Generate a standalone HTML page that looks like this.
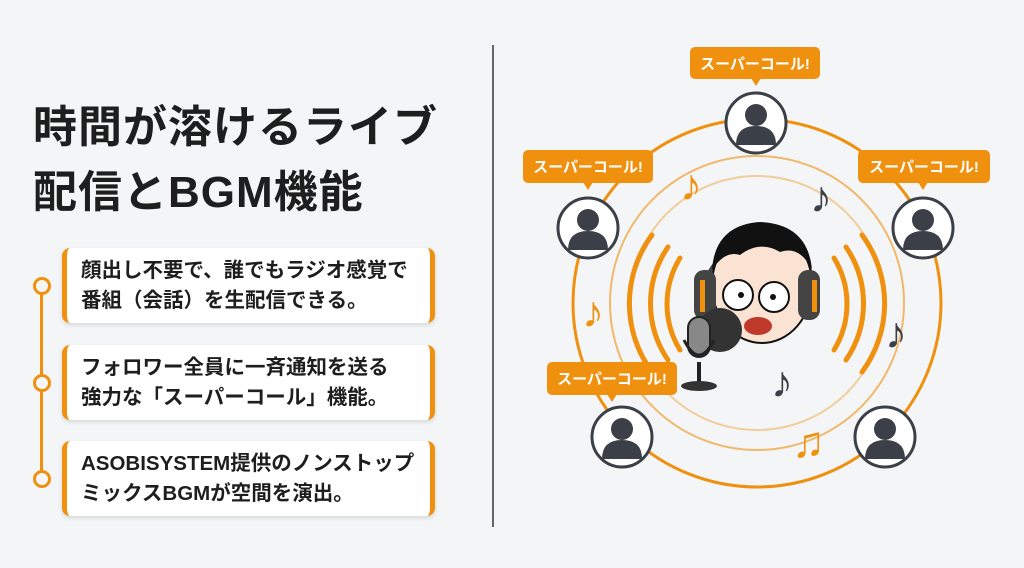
<!DOCTYPE html>
<html><head><meta charset="utf-8"><style>
body{margin:0;width:1024px;height:568px;background:#f3f5f7;font-family:"Liberation Sans","Noto Sans CJK JP",sans-serif;position:relative;overflow:hidden}
.t{position:absolute;left:33px;font-size:44px;font-weight:bold;color:#1e1e1e;letter-spacing:1px;line-height:50px}
.card{position:absolute;left:62px;width:373px;height:75px;background:#fff;border-left:5px solid #f0900f;border-right:5px solid #f0900f;border-radius:8px;box-shadow:0 2px 5px rgba(0,0,0,.12);box-sizing:border-box;padding:8px 0 0 14px;font-size:20.5px;font-weight:bold;line-height:30px;color:#1e1e1e;white-space:nowrap}
.dot{position:absolute;left:33px;width:12px;height:12px;border:3px solid #f0900f;border-radius:50%;background:#f3f5f7}
</style></head><body>
<div class="t" style="top:103px">時間が溶けるライブ</div>
<div class="t" style="top:168px">配信とBGM機能</div>
<div style="position:absolute;left:40px;top:285px;width:3px;height:195px;background:#f0900f"></div>
<div class="dot" style="top:277px"></div><div class="dot" style="top:374px"></div><div class="dot" style="top:470px"></div>
<div class="card" style="top:248px">顔出し不要で、誰でもラジオ感覚で<br>番組（会話）を生配信できる。</div>
<div class="card" style="top:345px">フォロワー全員に一斉通知を送る<br>強力な「スーパーコール」機能。</div>
<div class="card" style="top:441px">ASOBISYSTEM提供のノンストップ<br>ミックスBGMが空間を演出。</div>
<div style="position:absolute;left:492px;top:45px;width:2px;height:482px;background:#666"></div>
<svg width="1024" height="568" style="position:absolute;left:0;top:0" font-family="Liberation Sans,Noto Sans CJK JP,sans-serif">
<g fill="none" stroke="#f0900f">
<circle cx="757" cy="303" r="184" stroke-width="3"/>
<circle cx="757" cy="303" r="147" stroke-width="2" opacity=".6"/>
<circle cx="757" cy="303" r="127" stroke-width="2" opacity=".4"/>
<g stroke-width="5" stroke-linecap="round">
<path d="M652 235 A115 115 0 0 0 652 372"/><path d="M668 247 A100 100 0 0 0 668 360"/><path d="M680 258 A88 88 0 0 0 680 350"/>
<path d="M862 235 A115 115 0 0 1 862 372"/><path d="M846 247 A100 100 0 0 1 846 360"/><path d="M834 258 A88 88 0 0 1 834 350"/>
</g></g>
<g font-size="44" font-weight="bold">
<text x="680" y="200" fill="#f0900f">♪</text><text x="810" y="212" fill="#3b4048">♪</text>
<text x="582" y="327" fill="#f0900f">♪</text><text x="885" y="348" fill="#3b4048">♪</text>
<text x="771" y="397" fill="#3b4048">♪</text><text x="792" y="457" fill="#f0900f">♫</text></g>
<path d="M705 290 A57 62 0 0 1 815 290" fill="none" stroke="#444" stroke-width="9"/>
<ellipse cx="762" cy="285" rx="50" ry="58" fill="#fbe3d4" stroke="#111" stroke-width="2"/>
<path d="M712 270 Q715 225 760 222 Q808 224 812 270 Q800 245 780 252 Q760 240 740 255 Q725 250 712 270Z" fill="#111"/>
<circle cx="738" cy="295" r="15" fill="#fff" stroke="#111" stroke-width="2"/><circle cx="741" cy="295" r="3" fill="#111"/>
<circle cx="774" cy="297" r="15" fill="#fff" stroke="#111" stroke-width="2"/><circle cx="773" cy="297" r="3" fill="#111"/>
<ellipse cx="758" cy="326" rx="14" ry="9" fill="#c0392b"/>
<rect x="694" y="270" width="22" height="50" rx="10" fill="#444"/><rect x="798" y="270" width="22" height="50" rx="10" fill="#444"/>
<rect x="700" y="280" width="5" height="32" fill="#f0900f"/><rect x="812" y="280" width="5" height="32" fill="#f0900f"/>
<circle cx="720" cy="330" r="22" fill="#333"/>
<rect x="688" y="317" width="22" height="40" rx="11" fill="#888" stroke="#222" stroke-width="2"/>
<path d="M684 340 Q699 370 714 340" fill="none" stroke="#222" stroke-width="3"/>
<rect x="697" y="362" width="4" height="20" fill="#222"/><ellipse cx="699" cy="386" rx="18" ry="5" fill="#333"/>
<g stroke="#3b4048" stroke-width="3" fill="#fff">
<circle cx="756" cy="123" r="30"/><circle cx="588" cy="228" r="30"/><circle cx="923" cy="228" r="30"/><circle cx="622" cy="437" r="30"/><circle cx="885" cy="437" r="30"/></g>
<g fill="#3b4048">
<g transform="translate(756,123)"><circle cy="-8" r="11"/><path d="M-20 22 Q-20 3 0 3 Q20 3 20 22Z"/></g>
<g transform="translate(588,228)"><circle cy="-8" r="11"/><path d="M-20 22 Q-20 3 0 3 Q20 3 20 22Z"/></g>
<g transform="translate(923,228)"><circle cy="-8" r="11"/><path d="M-20 22 Q-20 3 0 3 Q20 3 20 22Z"/></g>
<g transform="translate(622,437)"><circle cy="-8" r="11"/><path d="M-20 22 Q-20 3 0 3 Q20 3 20 22Z"/></g>
<g transform="translate(885,437)"><circle cy="-8" r="11"/><path d="M-20 22 Q-20 3 0 3 Q20 3 20 22Z"/></g></g>
<g fill="#f0900f">
<rect x="690" y="47" width="130" height="32" rx="5"/><path d="M751 78 L756 86 L761 78Z"/>
<rect x="523" y="150" width="130" height="33" rx="5"/><path d="M583 182 L588 190 L593 182Z"/>
<rect x="858" y="150" width="132" height="33" rx="5"/><path d="M918 182 L923 190 L928 182Z"/>
<rect x="547" y="362" width="130" height="33" rx="5"/><path d="M607 394 L612 402 L617 394Z"/></g>
<g fill="#fff" font-size="15" font-weight="bold" text-anchor="middle">
<text x="755" y="69">スーパーコール!</text><text x="588" y="172">スーパーコール!</text>
<text x="924" y="172">スーパーコール!</text><text x="612" y="384">スーパーコール!</text></g>
</svg>
</body></html>
